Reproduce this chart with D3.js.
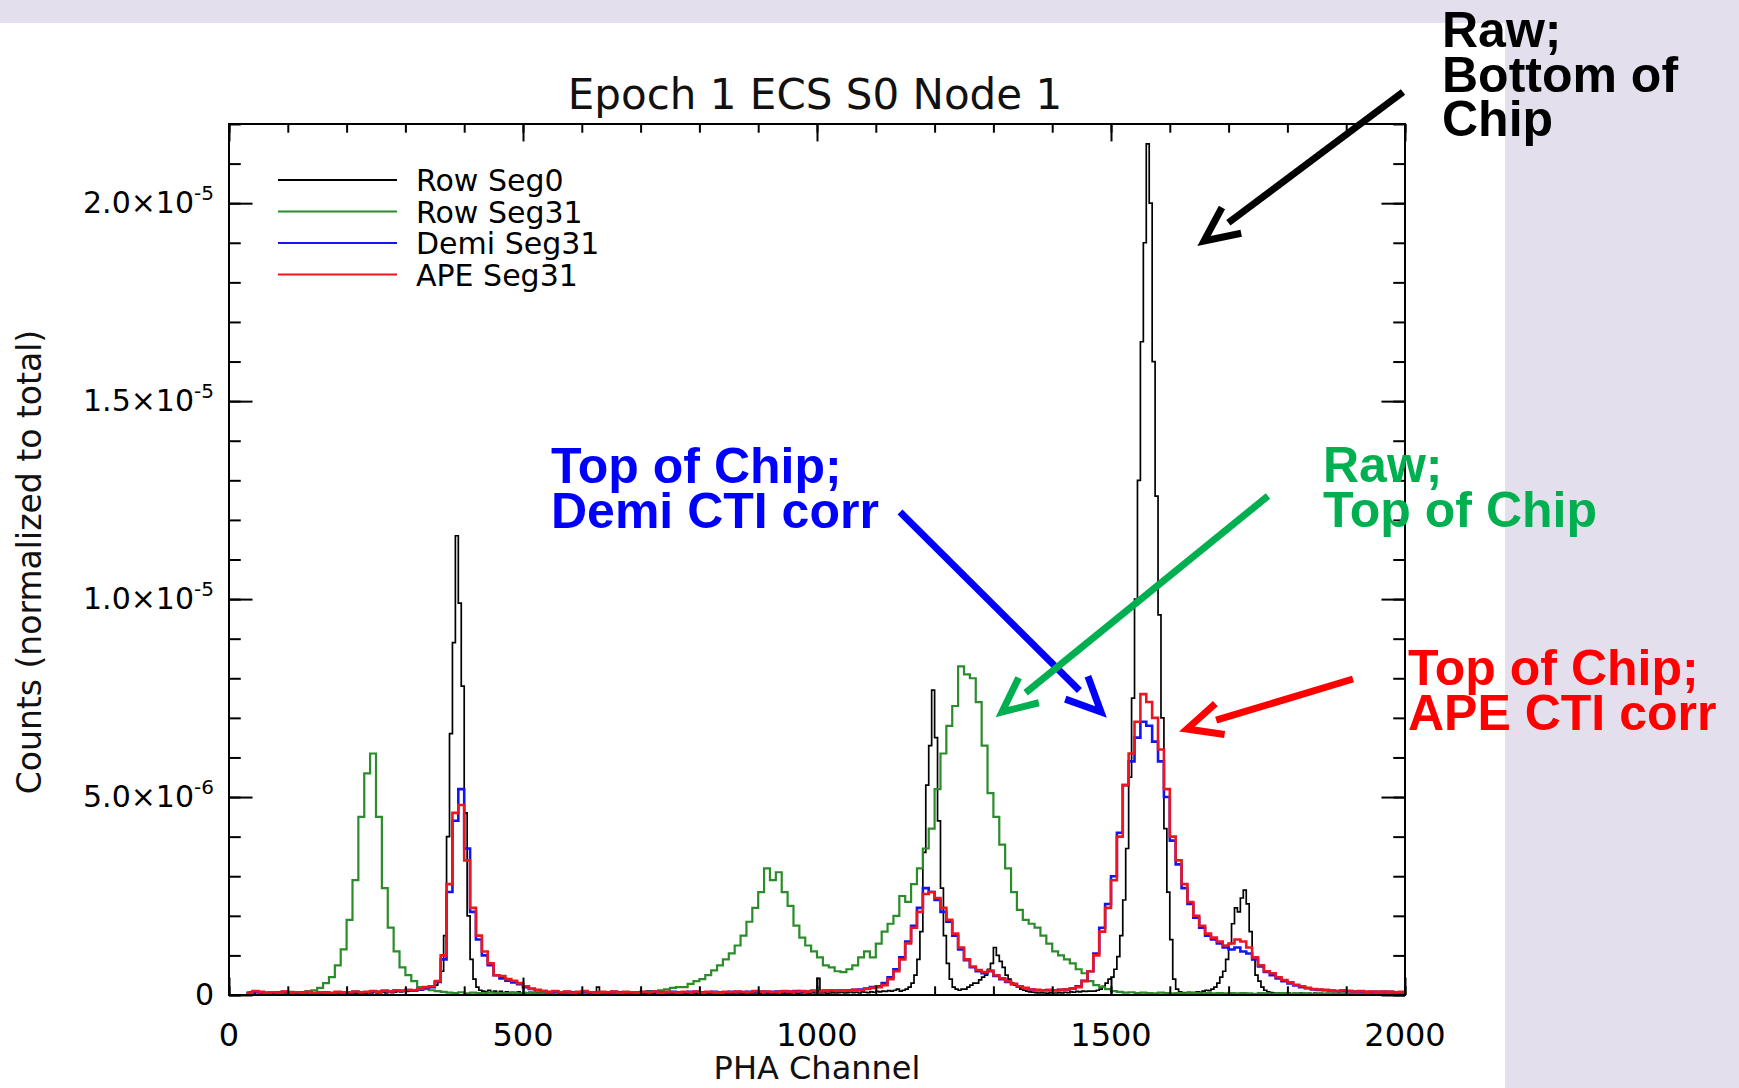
<!DOCTYPE html>
<html><head><meta charset="utf-8">
<script src="https://cdn.jsdelivr.net/npm/d3@7"></script>
<style>html,body{margin:0;padding:0;background:#e4dfec;}svg{display:block}</style>
</head><body>
<svg id="c" width="1739" height="1088"></svg>
<script>
// ---------- text ----------
const TITLE = "Epoch 1 ECS S0 Node 1";
const X_LABEL = "PHA Channel";
const Y_LABEL = "Counts (normalized to total)";
const seriesNames = ["Row Seg0", "Row Seg31", "Demi Seg31", "APE Seg31"];
const seriesColors = ["#000000", "#2a8c2a", "#1414f0", "#ec1620"];

// ---------- axes ----------
const xDomain = [0, 2000];
const yDomain = [0, 2.2e-5];
const xMajorTicks = [0, 500, 1000, 1500, 2000];
const xTickLabels = ["0", "500", "1000", "1500", "2000"];
const xMinorStep = 100;
const yMajorTicks = [0, 5e-6, 1e-5, 1.5e-5, 2e-5];
const yTickMantissa = ["0", "5.0\u00d710", "1.0\u00d710", "1.5\u00d710", "2.0\u00d710"];
const yTickExponent = ["", "-6", "-5", "-5", "-5"];
const yMinorStep = 1e-6;

// ---------- data (counts in units of 1e-6, step histograms) ----------
const Y_UNIT = 1e-6;
const FIRST_CHANNEL = 30;
const BIN_SEG0 = 5;    // channel width of each Row Seg0 bin
const BIN_SEG31 = 10;  // channel width of each Seg31 bin

const rowSeg0 = [
 // 30-345
 0.05,0.08,0.04,0.10,0.06,0.03,0.05,0.07,0.04,0.06,
 0.05,0.03,0.06,0.04,0.08,0.05,0.03,0.05,0.06,0.04,
 0.05,0.07,0.03,0.05,0.04,0.06,0.05,0.03,0.05,0.04,
 0.06,0.05,0.04,0.05,0.07,0.04,0.05,0.03,0.06,0.05,
 0.04,0.06,0.05,0.08,0.05,0.06,0.07,0.05,0.08,0.06,
 0.07,0.10,0.08,0.12,0.09,0.10,0.13,0.11,0.14,0.12,
 0.15,0.18,0.20,0.22,
 // 350-425
 0.25,0.35,0.6,1.5,4.0,6.6,8.9,11.6,9.9,7.8,4.6,2.0,0.9,0.4,0.2,0.12,
 // 430-1135
 0.10,0.08,0.12,0.07,0.10,0.06,0.09,0.05,0.08,0.06,
 0.07,0.05,0.08,0.04,0.06,0.05,0.07,0.04,0.06,0.05,
 0.05,0.07,0.04,0.06,0.05,0.08,0.04,0.05,0.06,0.04,
 0.05,0.06,0.04,0.05,0.07,0.05,0.04,0.06,0.05,0.20,
 0.05,0.04,0.06,0.05,0.04,0.05,0.06,0.04,0.05,0.04,
 0.06,0.05,0.04,0.05,0.06,0.04,0.05,0.05,0.04,0.06,
 0.05,0.04,0.05,0.06,0.04,0.05,0.04,0.06,0.05,0.04,
 0.05,0.06,0.04,0.05,0.04,0.06,0.05,0.04,0.05,0.06,
 0.04,0.05,0.06,0.04,0.05,0.04,0.06,0.05,0.04,0.05,
 0.06,0.04,0.05,0.05,0.04,0.06,0.05,0.04,0.05,0.04,
 0.05,0.06,0.04,0.05,0.04,0.05,0.06,0.04,0.05,0.06,
 0.05,0.04,0.06,0.05,0.42,0.05,0.06,0.04,0.05,0.06,
 0.05,0.06,0.07,0.05,0.06,0.08,0.06,0.07,0.05,0.08,
 0.07,0.06,0.08,0.07,0.09,0.08,0.10,0.09,0.11,0.10,
 0.12,0.15,
 // 1140-1245
 0.10,0.12,0.15,0.20,0.30,0.50,0.90,1.6,3.6,5.3,6.3,7.7,6.5,4.4,2.7,1.5,0.8,0.4,0.2,0.15,0.12,0.15,
 // 1250-1370
 0.15,0.20,0.25,0.30,0.30,0.38,0.45,0.50,0.65,0.80,1.2,1.0,0.85,0.7,0.5,0.4,0.3,0.25,0.2,0.15,0.12,0.10,0.08,0.07,0.06,
 // 1375-1465
 0.05,0.06,0.05,0.04,0.06,0.05,0.05,0.06,0.05,0.07,0.06,0.08,0.07,0.09,0.08,0.10,0.09,0.10,0.10,
 // 1470-1615
 0.10,0.12,0.15,0.22,0.30,0.40,0.45,0.65,0.97,1.5,
 2.4,3.7,5.5,7.5,10.0,13.0,16.5,19.0,21.5,20.0,
 16.0,12.6,9.6,7.0,4.2,2.6,1.4,0.4,0.15,0.08,
 // 1620-1665
 0.06,0.05,0.07,0.05,0.06,0.08,0.07,0.10,0.12,0.11,
 // 1670-1775
 0.15,0.20,0.30,0.45,0.60,0.90,1.3,1.8,2.2,2.1,2.45,2.65,2.3,1.6,0.9,0.5,0.35,0.2,0.12,0.08,0.06,0.05,
 // 1780-1995
 0.04,0.05,0.03,0.04,0.05,0.03,0.04,0.03,0.05,0.04,
 0.03,0.04,0.03,0.05,0.03,0.04,0.03,0.04,0.03,0.04,
 0.03,0.05,0.03,0.04,0.03,0.04,0.03,0.03,0.04,0.03,
 0.04,0.03,0.03,0.04,0.03,0.03,0.04,0.03,0.03,0.04,
 0.03,0.03,0.04,0.03
];

const rowSeg31 = [
 // 30-140
 0.05,0.08,0.06,0.04,0.07,0.05,0.06,0.08,0.05,0.07,0.10,0.12,
 // 150-330
 0.18,0.30,0.45,0.75,1.15,1.9,2.9,4.5,5.6,6.1,4.5,2.7,1.7,1.1,0.7,0.5,0.35,0.2,0.15,
 // 340-760
 0.12,0.10,0.08,0.06,0.05,0.07,0.04,0.06,0.05,0.04,
 0.06,0.05,0.04,0.05,0.06,0.04,0.05,0.06,0.04,0.05,
 0.04,0.06,0.05,0.04,0.05,0.06,0.05,0.04,0.06,0.05,
 0.04,0.05,0.06,0.05,0.07,0.06,0.08,0.10,0.09,0.12,
 0.14,0.18,0.20,
 // 770-1500
 0.20,0.28,0.35,0.40,0.50,0.62,0.75,0.90,1.05,1.25,
 1.5,1.85,2.2,2.6,3.2,2.9,3.1,2.6,2.25,1.75,
 1.45,1.25,1.1,0.95,0.75,0.7,0.6,0.58,0.65,0.75,
 0.95,1.1,0.95,1.3,1.6,1.8,2.0,2.5,2.35,2.8,
 3.2,3.7,4.2,5.2,6.1,6.8,7.3,8.3,8.1,8.0,
 7.4,6.3,5.1,4.5,3.8,3.2,2.6,2.15,1.9,1.8,
 1.7,1.5,1.3,1.1,1.0,0.9,0.8,0.65,0.55,0.35,
 0.25,0.2,0.15,0.1,
 // 1510-1990
 0.08,0.06,0.07,0.05,0.06,0.05,0.04,0.06,0.05,0.04,
 0.05,0.04,0.06,0.05,0.04,0.05,0.04,0.05,0.04,0.05,
 0.04,0.05,0.04,0.03,0.05,0.04,0.03,0.04,0.05,0.03,
 0.04,0.03,0.04,0.03,0.04,0.03,0.04,0.03,0.04,0.03,
 0.04,0.03,0.03,0.04,0.03,0.04,0.03,0.03,0.04
];

const demiSeg31 = [
 // 30-330
 0.05,0.08,0.07,0.05,0.06,0.07,0.08,0.05,0.06,0.07,
 0.07,0.05,0.06,0.07,0.05,0.07,0.06,0.06,0.08,0.07,
 0.07,0.09,0.08,0.10,0.09,0.11,0.10,0.12,0.11,0.14,
 0.18,
 // 340-530
 0.2,0.33,0.9,2.6,4.4,5.2,3.7,2.1,1.4,1.0,0.75,0.5,0.42,0.36,0.32,0.27,0.2,0.15,0.12,0.1,
 // 540-1090
 0.07,0.09,0.06,0.08,0.07,0.07,0.09,0.06,0.07,0.07,
 0.06,0.08,0.07,0.07,0.06,0.07,0.07,0.08,0.08,0.07,
 0.07,0.08,0.07,0.07,0.08,0.08,0.07,0.07,0.08,0.07,
 0.07,0.08,0.08,0.07,0.08,0.09,0.09,0.08,0.08,0.09,
 0.09,0.09,0.10,0.09,0.09,0.10,0.10,0.11,0.11,0.11,
 0.12,0.12,0.13,0.14,0.16,0.20,
 // 1100-1450
 0.22,0.3,0.45,0.65,0.95,1.35,1.75,2.2,2.7,2.6,
 2.4,2.1,1.85,1.5,1.15,0.88,0.7,0.6,0.55,0.6,
 0.48,0.4,0.33,0.27,0.21,0.17,0.14,0.12,0.12,0.12,
 0.12,0.13,0.14,0.16,0.22,0.36,
 // 1460-1990
 0.6,1.05,1.7,2.3,3.0,4.1,5.3,5.9,6.5,6.9,
 6.8,6.4,5.9,5.0,3.9,3.3,2.7,2.3,1.95,1.7,
 1.5,1.4,1.3,1.2,1.15,1.2,1.1,1.05,0.9,0.72,
 0.58,0.5,0.42,0.35,0.29,0.24,0.2,0.17,0.14,0.13,
 0.12,0.11,0.1,0.11,0.1,0.09,0.09,0.08,0.08,0.08,
 0.08,0.08,0.07,0.07
];

const apeSeg31 = [
 // 30-330
 0.06,0.10,0.08,0.05,0.07,0.06,0.09,0.05,0.07,0.06,
 0.08,0.05,0.07,0.06,0.05,0.08,0.06,0.07,0.09,0.07,
 0.08,0.10,0.08,0.11,0.09,0.12,0.10,0.13,0.12,0.15,
 0.20,
 // 340-530
 0.22,0.35,1.0,2.8,4.6,4.8,3.4,2.2,1.5,1.1,0.8,0.5,0.48,0.4,0.36,0.3,0.22,0.16,0.13,0.1,
 // 540-1090
 0.08,0.10,0.07,0.09,0.06,0.08,0.10,0.07,0.06,0.08,
 0.07,0.09,0.06,0.08,0.07,0.06,0.08,0.07,0.09,0.06,
 0.08,0.07,0.06,0.08,0.07,0.09,0.06,0.08,0.07,0.06,
 0.08,0.07,0.09,0.08,0.07,0.10,0.08,0.09,0.07,0.08,
 0.10,0.08,0.09,0.10,0.08,0.11,0.09,0.10,0.12,0.10,
 0.12,0.11,0.13,0.12,0.15,0.18,
 // 1100-1450
 0.2,0.25,0.4,0.6,0.9,1.3,1.7,2.1,2.55,2.6,
 2.45,2.2,1.9,1.55,1.2,0.9,0.72,0.63,0.58,0.62,
 0.5,0.42,0.35,0.28,0.22,0.18,0.14,0.13,0.12,0.13,
 0.12,0.13,0.14,0.16,0.2,0.35,
 // 1460-1990
 0.6,1.0,1.6,2.2,2.9,4.0,5.3,6.1,6.9,7.6,
 7.4,7.0,6.2,5.2,4.0,3.4,2.8,2.35,2.0,1.75,
 1.55,1.45,1.35,1.25,1.3,1.4,1.35,1.2,0.95,0.75,
 0.6,0.55,0.45,0.38,0.32,0.26,0.22,0.18,0.15,0.14,
 0.13,0.11,0.1,0.12,0.1,0.09,0.1,0.08,0.09,0.08,
 0.09,0.08,0.07,0.08
];

const seriesValues = [rowSeg0, rowSeg31, demiSeg31, apeSeg31];
const seriesBins = [BIN_SEG0, BIN_SEG31, BIN_SEG31, BIN_SEG31];

// ---------- annotations ----------
const notes = [
  {lines: ["Raw;", "Bottom of", "Chip"], x: 1442, y: 47, color: "#000000"},
  {lines: ["Top of Chip;", "Demi CTI corr"], x: 551, y: 483, color: "#0000ff"},
  {lines: ["Raw;", "Top of Chip"], x: 1323, y: 482, color: "#00b050"},
  {lines: ["Top of Chip;", "APE CTI corr"], x: 1408, y: 685, color: "#ff0000"}
];
const arrows = [
  {from: [1403, 92], to: [1204, 241], color: "#000000"},
  {from: [900, 512], to: [1101, 712], color: "#0000ff"},
  {from: [1268, 496], to: [1002, 712], color: "#00b050"},
  {from: [1353, 679], to: [1187, 729], color: "#ff0000"}
];

// ---------- drawing ----------
const svg = d3.select("#c");
const W = 1739, H = 1088;
const M = {left: 229, right: 1405, top: 124, bottom: 995};
const FONT = "'DejaVu Sans', sans-serif";
const BOLD = "'Liberation Sans', Arial, sans-serif";

svg.append("rect").attr("x", 0).attr("y", 0).attr("width", W).attr("height", H).attr("fill", "#e4dfec");
svg.append("rect").attr("x", 0).attr("y", 23).attr("width", 1505).attr("height", H - 23).attr("fill", "#ffffff");

const x = d3.scaleLinear().domain(xDomain).range([M.left, M.right]);
const y = d3.scaleLinear().domain(yDomain).range([M.bottom, M.top]);

// series
const line = d3.line().x(d => x(d[0])).y(d => y(d[1])).curve(d3.curveStepAfter);
const widths = [1.7, 2.2, 2.6, 2.6];
const plotG = svg.append("g");
seriesValues.forEach((vals, k) => {
  const bin = seriesBins[k];
  const pts = vals.map((v, i) => [FIRST_CHANNEL + i * bin, v * Y_UNIT]);
  pts.push([FIRST_CHANNEL + vals.length * bin, vals[vals.length - 1] * Y_UNIT]);
  plotG.append("path").attr("d", line(pts)).attr("fill", "none")
    .attr("stroke", seriesColors[k]).attr("stroke-width", widths[k])
    .attr("stroke-linejoin", "miter");
});

// axes (ticks inward on all four sides)
const xLen = 0.02 * (M.bottom - M.top), yLen = 0.02 * (M.right - M.left);
const xMinor = d3.range(xDomain[0], xDomain[1] + 1, xMinorStep);
const yMinor = d3.range(0, 22).map(i => i * yMinorStep).concat([2.2e-5]).filter(v => v <= yDomain[1] + 1e-12);
function styleAxis(g) {
  g.select(".domain").remove();
  g.selectAll("line").attr("stroke", "#000").attr("stroke-width", 2);
}
svg.append("g").attr("transform", `translate(0,${M.bottom})`)
  .call(d3.axisBottom(x).tickValues(xMinor).tickSize(-xLen / 2).tickFormat("")).call(styleAxis);
svg.append("g").attr("transform", `translate(0,${M.bottom})`)
  .call(d3.axisBottom(x).tickValues(xMajorTicks).tickSize(-xLen).tickFormat("")).call(styleAxis);
svg.append("g").attr("transform", `translate(0,${M.top})`)
  .call(d3.axisTop(x).tickValues(xMinor).tickSize(-xLen / 2).tickFormat("")).call(styleAxis);
svg.append("g").attr("transform", `translate(0,${M.top})`)
  .call(d3.axisTop(x).tickValues(xMajorTicks).tickSize(-xLen).tickFormat("")).call(styleAxis);
svg.append("g").attr("transform", `translate(${M.left},0)`)
  .call(d3.axisLeft(y).tickValues(yMinor).tickSize(-yLen / 2).tickFormat("")).call(styleAxis);
svg.append("g").attr("transform", `translate(${M.left},0)`)
  .call(d3.axisLeft(y).tickValues(yMajorTicks).tickSize(-yLen).tickFormat("")).call(styleAxis);
svg.append("g").attr("transform", `translate(${M.right},0)`)
  .call(d3.axisRight(y).tickValues(yMinor).tickSize(-yLen / 2).tickFormat("")).call(styleAxis);
svg.append("g").attr("transform", `translate(${M.right},0)`)
  .call(d3.axisRight(y).tickValues(yMajorTicks).tickSize(-yLen).tickFormat("")).call(styleAxis);
svg.append("rect").attr("x", M.left).attr("y", M.top)
  .attr("width", M.right - M.left).attr("height", M.bottom - M.top)
  .attr("fill", "none").attr("stroke", "#000").attr("stroke-width", 2);

// tick labels
svg.append("g").selectAll("text").data(xMajorTicks).join("text")
  .attr("x", d => x(d)).attr("y", 1046).attr("text-anchor", "middle")
  .attr("font-family", FONT).attr("font-size", 32).attr("fill", "#000")
  .text((d, i) => xTickLabels[i]);
const yl = svg.append("g");
yMajorTicks.forEach((v, i) => {
  const t = yl.append("text").attr("x", 214).attr("y", y(v) + 10).attr("text-anchor", "end")
    .attr("font-family", FONT).attr("font-size", 30).attr("fill", "#000");
  t.append("tspan").text(yTickMantissa[i]);
  if (yTickExponent[i]) t.append("tspan").attr("dy", -13).attr("font-size", 20).text(yTickExponent[i]);
});

// titles
svg.append("text").attr("x", 815).attr("y", 109).attr("text-anchor", "middle")
  .attr("font-family", FONT).attr("font-size", 42).attr("fill", "#111").text(TITLE);
svg.append("text").attr("x", 817).attr("y", 1079).attr("text-anchor", "middle")
  .attr("font-family", FONT).attr("font-size", 32).attr("fill", "#111").text(X_LABEL);
svg.append("text").attr("transform", "translate(41,562) rotate(-90)").attr("text-anchor", "middle")
  .attr("font-family", FONT).attr("font-size", 33).attr("fill", "#111").text(Y_LABEL);

// legend
const lg = svg.append("g");
seriesNames.forEach((name, i) => {
  const ly = 180 + i * 31.5;
  lg.append("line").attr("x1", 278).attr("x2", 397).attr("y1", ly).attr("y2", ly)
    .attr("stroke", seriesColors[i]).attr("stroke-width", 2);
  lg.append("text").attr("x", 416).attr("y", ly + 11).attr("font-family", FONT)
    .attr("font-size", 30).attr("fill", "#000").text(name);
});

// arrows
const ag = svg.append("g");
arrows.forEach(a => {
  const dx = a.from[0] - a.to[0], dy = a.from[1] - a.to[1];
  const L = Math.hypot(dx, dy), ux = dx / L, uy = dy / L;
  const ang = 25 * Math.PI / 180, arm = 38;
  const rot = s => [ux * Math.cos(s * ang) - uy * Math.sin(s * ang), ux * Math.sin(s * ang) + uy * Math.cos(s * ang)];
  const r1 = rot(1), r2 = rot(-1);
  const p1 = [a.to[0] + r1[0] * arm, a.to[1] + r1[1] * arm];
  const p2 = [a.to[0] + r2[0] * arm, a.to[1] + r2[1] * arm];
  const back = arm * Math.cos(ang) - 4;
  ag.append("line").attr("x1", a.from[0]).attr("y1", a.from[1])
    .attr("x2", a.to[0] + ux * back).attr("y2", a.to[1] + uy * back)
    .attr("stroke", a.color).attr("stroke-width", 7);
  ag.append("path").attr("d", `M${p1[0]},${p1[1]}L${a.to[0]},${a.to[1]}L${p2[0]},${p2[1]}`)
    .attr("fill", "none").attr("stroke", a.color).attr("stroke-width", 7).attr("stroke-linejoin", "miter");
});

// annotation text
notes.forEach(n => {
  const t = svg.append("text").attr("font-family", BOLD).attr("font-weight", "bold")
    .attr("font-size", 50).attr("fill", n.color);
  n.lines.forEach((s, i) => {
    t.append("tspan").attr("x", n.x).attr("y", n.y + i * 44.5).text(s);
  });
});
</script>
</body></html>
